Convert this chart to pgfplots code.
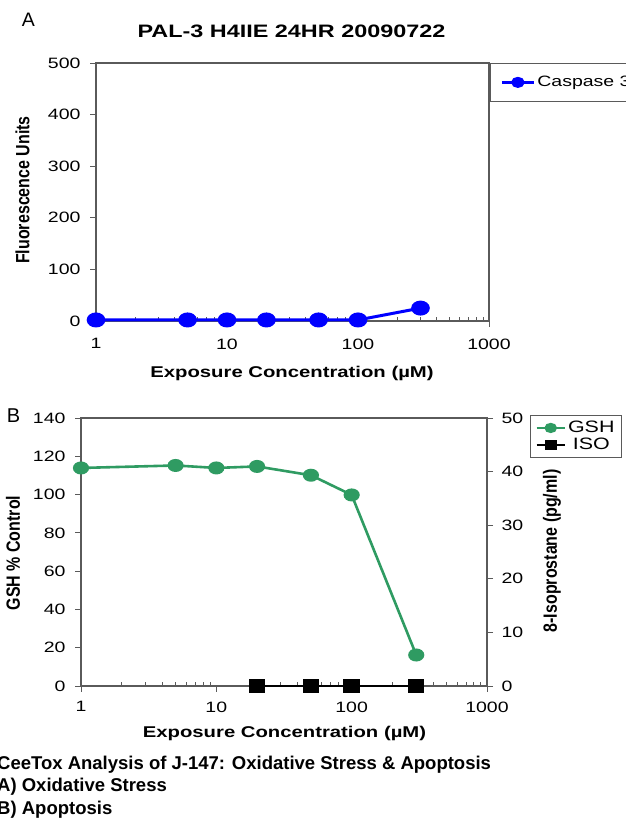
\documentclass[border=0pt]{standalone}
\usepackage{pgfplots}
\pgfplotsset{compat=1.18}
\usepackage{fontspec}
\setmainfont{Liberation Sans}
\newfontfamily\chart[FakeStretch=1.3]{Liberation Sans}
\definecolor{capblue}{HTML}{0000FF}
\definecolor{gshgreen}{HTML}{2F9B62}
\definecolor{axgray}{HTML}{5A5A5A}

\begin{document}
\begin{tikzpicture}
\path[use as bounding box] (0pt,0pt) rectangle (625pt,821pt);

% Panel A: caspase 3
\begin{axis}[
  scale only axis,
  at={(96pt,500pt)}, anchor=south west,
  width=393pt, height=258pt,
  xmode=log, xmin=1, xmax=1000,
  xtick={1,10,100,1000}, xticklabels={1,10,100,1000},
  minor xtick={2,3,4,5,6,7,8,9,20,30,40,50,60,70,80,90,200,300,400,500,600,700,800,900},
  ymin=0, ymax=500, ytick={0,100,...,500},
  clip=false,
  axis line style={axgray, line width=1.1pt},
  tick style={axgray, line width=0.9pt},
  tick align=outside,
  major tick length=6pt, minor tick length=4pt,
  minor tick style={yshift=4pt},
  xtick pos=bottom, ytick pos=left,
  tick label style={font=\chart\fontsize{15}{17}\selectfont},
  yticklabel style={xshift=-6pt},
  xticklabel style={yshift=-8pt},
  /pgf/number format/assume math mode=true,
  legend image code/.code={\draw[mark repeat=2, mark phase=2, #1] plot coordinates {(0pt,0pt) (16pt,0pt) (32pt,0pt)};},
  legend style={at={(1.0025,1)}, anchor=north west, draw=axgray, line width=0.8pt,
    font=\chart\fontsize{15}{17}\selectfont, inner xsep=10pt, inner ysep=11pt},
]
\addlegendimage{capblue, line width=3pt, mark=*, mark size=4pt, mark options={xscale=1.3, fill=capblue, draw=capblue}}
\addlegendentry{Caspase 3}
\addplot[capblue, line width=3pt, mark=*, mark size=6pt, mark options={xscale=1.3, fill=capblue, draw=capblue}, forget plot]
  coordinates {(1,2) (5,2) (10,2) (20,2) (50,2) (100,2) (300,25)};
\end{axis}

% Panel B: GSH (left axis)
\begin{axis}[
  scale only axis,
  at={(81pt,135pt)}, anchor=south west,
  width=406pt, height=268pt,
  xmode=log, xmin=1, xmax=1000,
  xtick={1,10,100,1000}, xticklabels={1,10,100,1000},
  minor xtick={2,3,4,5,6,7,8,9,20,30,40,50,60,70,80,90,200,300,400,500,600,700,800,900},
  ymin=0, ymax=140, ytick={0,20,...,140},
  clip=false,
  axis line style={axgray, line width=1.1pt},
  tick style={axgray, line width=0.9pt},
  tick align=outside,
  major tick length=6pt, minor tick length=4pt,
  minor tick style={yshift=4pt},
  xtick pos=bottom, ytick pos=left,
  tick label style={font=\chart\fontsize{15}{17}\selectfont},
  yticklabel style={xshift=-6pt},
  xticklabel style={yshift=-6pt},
  /pgf/number format/assume math mode=true,
]
\addplot[gshgreen, line width=2.6pt, mark=*, mark size=5.2pt, mark options={xscale=1.3, fill=gshgreen, draw=gshgreen}]
  coordinates {(1,113.9) (5,115.2) (10,113.9) (20,114.7) (50,110.1) (100,99.8) (300,16.2)};
\end{axis}

% Panel B: ISO (right axis)
\begin{axis}[
  scale only axis,
  at={(81pt,135pt)}, anchor=south west,
  width=406pt, height=268pt,
  xmode=log, xmin=1, xmax=1000,
  axis x line=none,
  axis y line*=right,
  ymin=0, ymax=50, ytick={0,10,...,50},
  clip=false,
  axis line style={axgray, line width=1.1pt},
  tick style={axgray, line width=0.9pt},
  tick align=outside,
  major tick length=6pt,
  tick label style={font=\chart\fontsize{15}{17}\selectfont},
  yticklabel style={xshift=5pt},
  /pgf/number format/assume math mode=true,
  legend image code/.code={\draw[mark repeat=2, mark phase=2, #1] plot coordinates {(0pt,0pt) (14pt,0pt) (28pt,0pt)};},
  legend style={at={(1.106,1.011)}, anchor=north west, draw=axgray, line width=0.8pt,
    font=\chart\fontsize{16.5}{18}\selectfont, inner xsep=5pt, inner ysep=4pt},
]
\addlegendimage{gshgreen, line width=2.6pt, mark=*, mark size=3.8pt, mark options={xscale=1.3, fill=gshgreen, draw=gshgreen}}
\addlegendentry{GSH}
\addlegendimage{black, line width=2.6pt, mark=square*, mark size=3.6pt, mark options={xscale=1.3, fill=black, draw=black}}
\addlegendentry{ISO}
\addplot[black, line width=2.6pt, mark=square*, mark size=5.3pt, mark options={xscale=1.3, fill=black, draw=black}, forget plot]
  coordinates {(20,0) (50,0) (100,0) (300,0)};
\end{axis}

% titles and labels
\node[anchor=base] at (28.5pt,794pt) {\fontsize{19.5}{22}\selectfont A};
\node[anchor=base] at (291.5pt,783pt) {\chart\bfseries\fontsize{18}{21}\selectfont PAL-3 H4IIE 24HR 20090722};
\node[anchor=base] at (292pt,443pt) {\chart\bfseries\fontsize{15.6}{18}\selectfont Exposure Concentration (µM)};
\node[rotate=90] at (22.5pt,631pt) {\scalebox{1}[1.2]{\bfseries\fontsize{16}{19}\selectfont Fluorescence Units}};

\node[anchor=base] at (13.5pt,398pt) {\fontsize{20}{23}\selectfont B};
\node[anchor=base] at (284.5pt,83pt) {\chart\bfseries\fontsize{15.6}{18}\selectfont Exposure Concentration (µM)};
\node[rotate=90] at (13pt,268pt) {\scalebox{1}[1.2]{\bfseries\fontsize{16}{19}\selectfont GSH \% Control}};
\node[rotate=90] at (552pt,270pt) {\scalebox{1}[1.2]{\bfseries\fontsize{16}{19}\selectfont 8-Isoprostane (pg/ml)}};

% caption
\node[anchor=base west, inner sep=0pt] at (-3pt,51pt) {\bfseries\fontsize{18.5}{22}\selectfont CeeTox Analysis of J-147: Oxidative Stress \& Apoptosis};
\node[anchor=base west, inner sep=0pt] at (-3pt,29pt) {\bfseries\fontsize{18.5}{22}\selectfont A) Oxidative Stress};
\node[anchor=base west, inner sep=0pt] at (-3pt,6pt) {\bfseries\fontsize{18.5}{22}\selectfont B) Apoptosis};
\end{tikzpicture}
\end{document}
